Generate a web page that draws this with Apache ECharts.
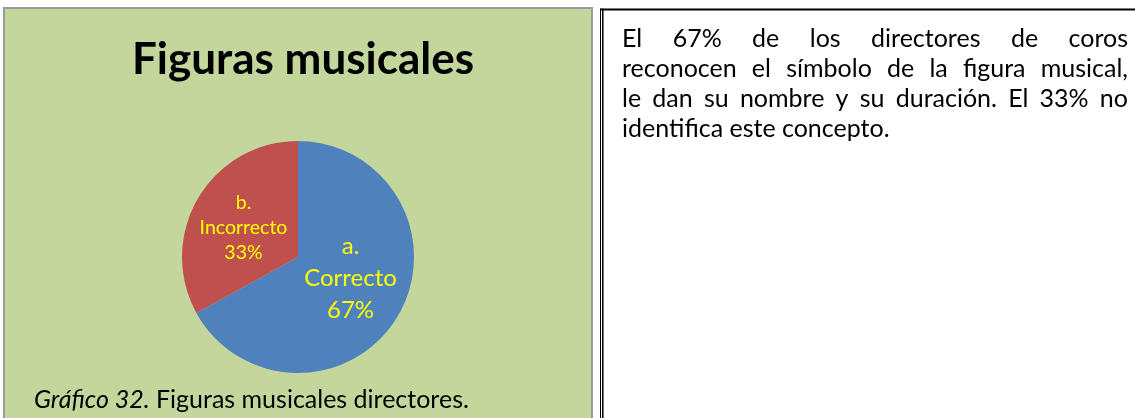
<!DOCTYPE html>
<html>
<head>
<meta charset="utf-8">
<script src="https://cdn.jsdelivr.net/npm/echarts@6/dist/echarts.min.js"></script>
<style>
  html, body { margin: 0; padding: 0; background: #ffffff; }
  #chart { width: 1135px; height: 418px; }
</style>
</head>
<body>
<div id="chart"></div>
<script>
// ---- Data ----
const sliceLetters = ['a.', 'b.'];
const sliceNames = ['Correcto', 'Incorrecto'];
const sliceValues = [67, 33];
const sliceColors = ['#4f81bd', '#c0504d'];

const chartTitle = 'Figuras musicales';
const captionItalic = 'Gráfico 32.';
const captionRest = ' Figuras musicales directores.';
const paragraphLines = [
  'El 67% de los directores de coros',
  'reconocen el símbolo de la figura musical,',
  'le dan su nombre y su duración. El 33% no',
  'identifica este concepto.'
];

// ---- Layout / styles ----
const FONT = 'Lato, "Open Sans", sans-serif';
const PARA_SIZE = 25;
const PARA_LEFT = 622;
const PARA_RIGHT = 1128;
const PARA_TOP = 26;
const PARA_LH = 30;

const chart = echarts.init(document.getElementById('chart'), null, { renderer: 'canvas' });

// measure text for justification
const mctx = document.createElement('canvas').getContext('2d');
mctx.font = PARA_SIZE + 'px ' + FONT;
function tw(s) { return mctx.measureText(s).width; }

const paraGraphics = [];
paragraphLines.forEach((line, i) => {
  const y = PARA_TOP + i * PARA_LH;
  const words = line.split(' ');
  const last = i === paragraphLines.length - 1;
  if (last || words.length < 2) {
    paraGraphics.push({
      type: 'text', x: PARA_LEFT, y: y,
      style: { text: line, font: PARA_SIZE + 'px ' + FONT, fill: '#000', textVerticalAlign: 'top' }
    });
    return;
  }
  const widths = words.map(tw);
  const total = widths.reduce((a, b) => a + b, 0);
  const gap = (PARA_RIGHT - PARA_LEFT - total) / (words.length - 1);
  let x = PARA_LEFT;
  words.forEach((w, k) => {
    paraGraphics.push({
      type: 'text', x: x, y: y,
      style: { text: w, font: PARA_SIZE + 'px ' + FONT, fill: '#000', textVerticalAlign: 'top' }
    });
    x += widths[k] + gap;
  });
});

const option = {
  backgroundColor: '#ffffff',
  animation: false,
  title: {
    text: chartTitle,
    left: 298,
    top: 33,
    textAlign: 'center',
    textStyle: { fontFamily: FONT, fontWeight: 'bold', fontSize: 44, color: '#000' }
  },
  graphic: [
    {
      type: 'rect', z: -10, silent: true,
      shape: { x: 4, y: 8, width: 588, height: 420 },
      style: { fill: '#c3d69b', stroke: '#9a9a9a', lineWidth: 2 }
    },
    {
      type: 'line', silent: true,
      shape: { x1: 600, y1: 9.5, x2: 1135, y2: 9.5 },
      style: { stroke: '#000', lineWidth: 2 }
    },
    {
      type: 'line', silent: true,
      shape: { x1: 600.5, y1: 8.5, x2: 600.5, y2: 418 },
      style: { stroke: '#000', lineWidth: 1 }
    },
    {
      type: 'line', silent: true,
      shape: { x1: 602.8, y1: 8.5, x2: 602.8, y2: 418 },
      style: { stroke: '#000', lineWidth: 1.5 }
    },
    {
      type: 'text', left: 34, top: 387,
      style: {
        text: '{i|' + captionItalic + '}{r|' + captionRest + '}',
        rich: {
          i: { fontFamily: FONT, fontStyle: 'italic', fontSize: 25, fill: '#000', color: '#000' },
          r: { fontFamily: FONT, fontSize: 25, fill: '#000', color: '#000' }
        }
      }
    }
  ].concat(paraGraphics),
  series: [{
    type: 'pie',
    center: [298, 257],
    radius: 116,
    startAngle: 90,
    clockwise: true,
    silent: true,
    label: {
      show: true,
      position: 'inside',
      color: '#ffff00',
      fontFamily: FONT,
      lineHeight: 31,
      formatter: function (p) {
        return sliceLetters[p.dataIndex] + '\n' + p.name + '\n' + Math.round(p.percent) + '%';
      }
    },
    labelLine: { show: false },
    itemStyle: { borderWidth: 0 },
    data: sliceNames.map((n, i) => ({
      name: n,
      value: sliceValues[i],
      itemStyle: { color: sliceColors[i] },
      label: i === 0
        ? { fontSize: 24, lineHeight: 32, offset: [0, -10] }
        : { fontSize: 19.5, lineHeight: 25, offset: [-2, 2] }
    }))
  }]
};

chart.setOption(option);
</script>
</body>
</html>
